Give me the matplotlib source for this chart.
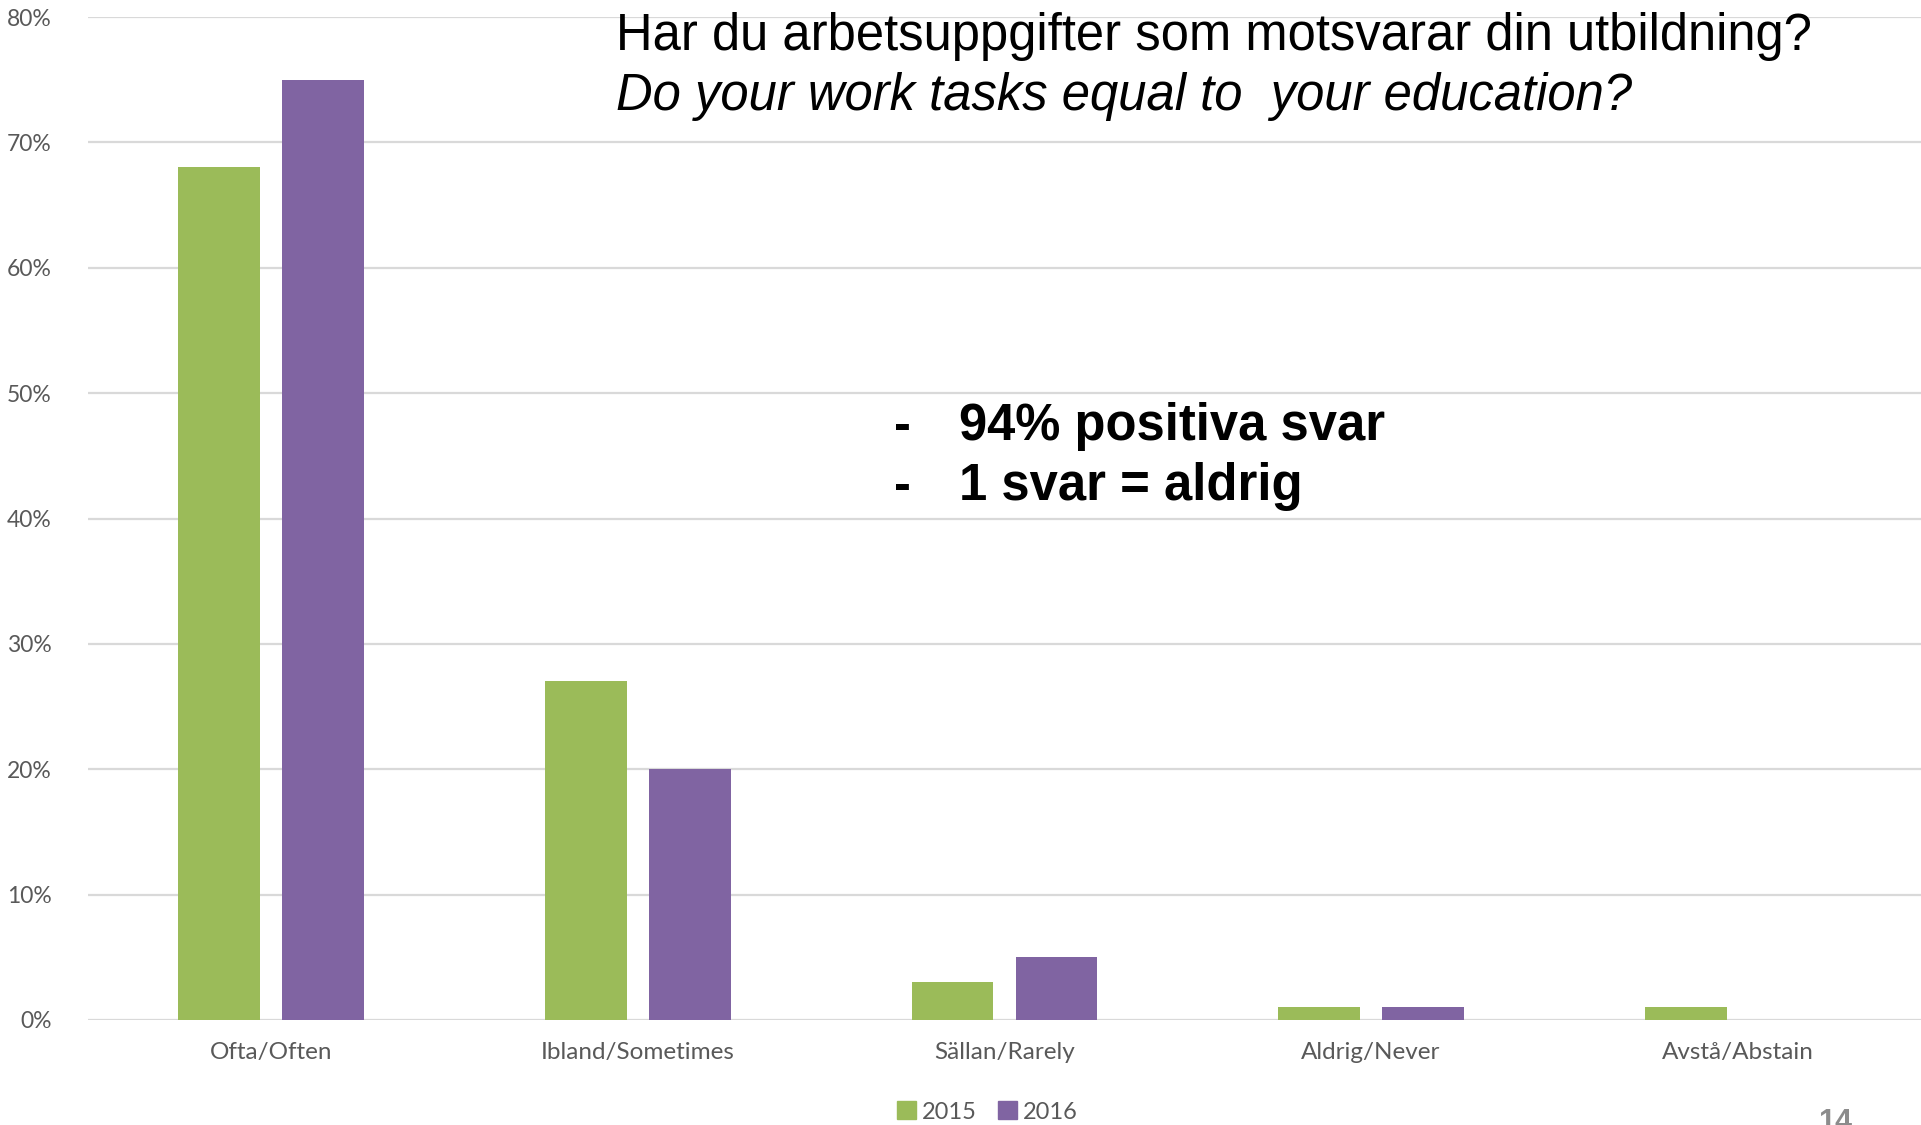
import numpy as np
import matplotlib
matplotlib.use("Agg")
import matplotlib.pyplot as plt
from matplotlib.patches import Patch

# data
categories = ["Ofta/Often", "Ibland/Sometimes", "Sällan/Rarely", "Aldrig/Never", "Avstå/Abstain"]
years = ["2015", "2016"]
values_2015 = [68, 27, 3, 1, 1]
values_2016 = [75, 20, 5, 1, 0]
yticks = [0, 10, 20, 30, 40, 50, 60, 70, 80]

green = "#9BBB59"
purple = "#8064A2"
tickcol = "#595959"

fig = plt.figure(figsize=(19.21, 11.25), dpi=100)
ax = fig.add_axes([88/1921, (1125-1020)/1125, (1921-88)/1921, (1020-17)/1125])

x = np.arange(len(categories))
w = 0.223
ax.bar(x - 0.142, values_2015, width=w, color=green, zorder=3)
ax.bar(x + 0.142, values_2016, width=w, color=purple, zorder=3)

ax.set_xlim(-0.5, 4.5)
ax.set_ylim(0, 80)
ax.set_yticks(yticks)
ax.set_yticklabels([f"{v}%" for v in yticks], family="Lato", fontsize=16.5, color=tickcol)
ax.set_xticks(x)
ax.set_xticklabels(categories, family="Lato", fontsize=17.5, color=tickcol)
ax.tick_params(axis="both", length=0)
ax.tick_params(axis="y", pad=26)
ax.tick_params(axis="x", pad=16)
ax.grid(axis="y", color="#d9d9d9", linewidth=1.6, zorder=0)
for s in ax.spines.values():
    s.set_visible(False)

# titles
fig.text(616/1921, (1125-50)/1125, "Har du arbetsuppgifter som motsvarar din utbildning?",
         family="Liberation Sans", fontsize=36.5, va="baseline", ha="left")
fig.text(616/1921, (1125-110)/1125, "Do your work tasks equal to  your education?",
         family="Liberation Sans", fontsize=36.5, style="italic", va="baseline", ha="left")

# annotation
for i, line in enumerate(["94% positiva svar", "1 svar = aldrig"]):
    yb = (1125 - (440 + 60*i))/1125
    fig.text(894/1921, yb, "-", family="Liberation Sans", fontsize=36.5, weight="bold", va="baseline")
    fig.text(959/1921, yb, line, family="Liberation Sans", fontsize=36.5, weight="bold", va="baseline")

# legend
handles = [Patch(color=green), Patch(color=purple)]
fig.legend(handles, years, loc="center", bbox_to_anchor=(987/1921, (1125-1112)/1125), ncol=2,
           frameon=False, prop={"family": "Lato", "size": 17}, labelcolor=tickcol,
           handlelength=0.8, handleheight=0.8, handletextpad=0.25, columnspacing=0.9)

# page number
fig.text(1835/1921, (1125-1108)/1125, "14", family="Liberation Sans", fontsize=22,
         weight="bold", color="#8c8c8c", va="top", ha="center")

fig.savefig("out.png", dpi=100)
